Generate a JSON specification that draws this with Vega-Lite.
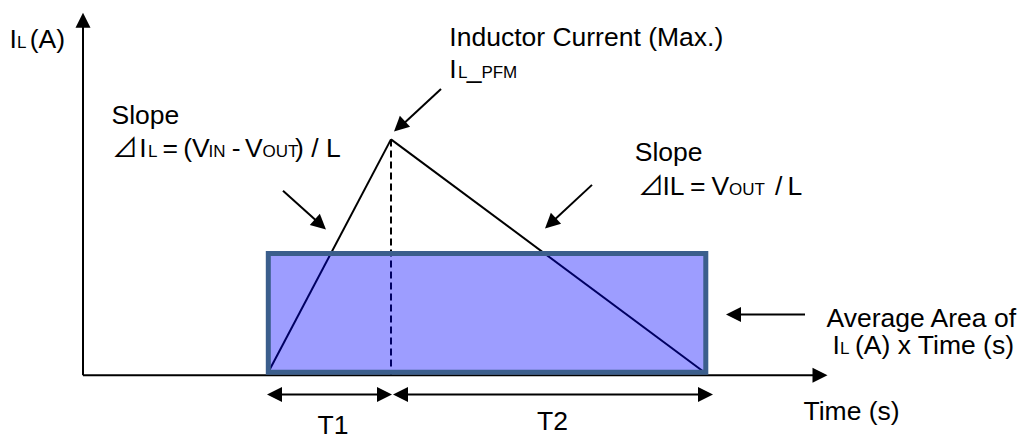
{
  "$schema": "https://vega.github.io/schema/vega-lite/v6.json",
  "width": 1023,
  "height": 440,
  "autosize": {"type": "fit", "contains": "padding"},
  "padding": 0,
  "background": "white",
  "config": {"view": {"stroke": null}},
  "datasets": {
    "lines": [
      {"part": "y axis", "x": 0, "y": 0, "x2": 0, "y2": 355, "style": "solid"},
      {"part": "x axis", "x": 0, "y": 0, "x2": 738, "y2": 0, "style": "solid"},
      {"part": "rise", "x": 185, "y": 2.5, "x2": 308, "y2": 238.5, "style": "solid"},
      {"part": "fall", "x": 308, "y": 238.5, "x2": 622, "y2": 2.5, "style": "solid"},
      {"part": "peak marker", "x": 308, "y": 238.5, "x2": 308, "y2": 0, "style": "dashed"},
      {"part": "peak pointer", "x": 358, "y": 289.5, "x2": 317, "y2": 251, "style": "solid"},
      {"part": "rise pointer", "x": 200, "y": 186.5, "x2": 237, "y2": 153, "style": "solid"},
      {"part": "fall pointer", "x": 509, "y": 192.5, "x2": 468, "y2": 154, "style": "solid"},
      {"part": "area pointer", "x": 722, "y": 61.5, "x2": 651, "y2": 61.5, "style": "solid"},
      {"part": "T1 span", "x": 191, "y": -19.5, "x2": 302, "y2": -19.5, "style": "solid"},
      {"part": "T2 span", "x": 317, "y": -19.5, "x2": 622, "y2": -19.5, "style": "solid"}
    ],
    "box": [
      {"t_start": 185.3, "t_end": 622.8, "i_low": 3, "i_avg": 123}
    ],
    "heads": [
      {"x": 0, "y": 359, "points": "up"},
      {"x": 737, "y": 0, "points": "right"},
      {"x": 301.5, "y": -19.5, "points": "right"},
      {"x": 622.5, "y": -19.5, "points": "right"},
      {"x": 191.5, "y": -19.5, "points": "left"},
      {"x": 317.5, "y": -19.5, "points": "left"},
      {"x": 650.5, "y": 61.5, "points": "left"},
      {"x": 237.4, "y": 152.5, "points": "down-right"},
      {"x": 316.5, "y": 251.6, "points": "down-left"},
      {"x": 467.5, "y": 153.6, "points": "down-left"}
    ],
    "labels": [
      {"x": -73.5, "y": 331.2, "text": "I", "role": "main"},
      {"x": -66, "y": 331.2, "text": "L", "role": "sub"},
      {"x": -53.2, "y": 331.2, "text": "(A)", "role": "main"},
      {"x": 366.3, "y": 332.8, "text": "Inductor Current (Max.)", "role": "main"},
      {"x": 366.3, "y": 300.2, "text": "I", "role": "main"},
      {"x": 375, "y": 300.2, "text": "L", "role": "sub"},
      {"x": 383.7, "y": 300.2, "text": "_", "role": "main"},
      {"x": 398.4, "y": 300.2, "text": "PFM", "role": "sub"},
      {"x": 28.5, "y": 254, "text": "Slope", "role": "main"},
      {"x": 29, "y": 221.2, "text": "⊿", "role": "symbol"},
      {"x": 56.3, "y": 221.2, "text": "I", "role": "main"},
      {"x": 65, "y": 221.2, "text": "L", "role": "sub"},
      {"x": 79.5, "y": 221.2, "text": "=", "role": "main"},
      {"x": 100.3, "y": 221.2, "text": "(V", "role": "main"},
      {"x": 125.5, "y": 221.2, "text": "IN", "role": "sub"},
      {"x": 148.8, "y": 221.2, "text": "-", "role": "main"},
      {"x": 162, "y": 221.2, "text": "V", "role": "main"},
      {"x": 179.5, "y": 221.2, "text": "OUT", "role": "sub"},
      {"x": 212, "y": 221.2, "text": ") / L", "role": "main"},
      {"x": 551.8, "y": 216.2, "text": "Slope", "role": "main"},
      {"x": 555, "y": 182.5, "text": "⊿", "role": "symbol"},
      {"x": 579.5, "y": 182.5, "text": "IL", "role": "main"},
      {"x": 607, "y": 182.5, "text": "=", "role": "main"},
      {"x": 628.5, "y": 182.5, "text": "V", "role": "main"},
      {"x": 646, "y": 182.5, "text": "OUT", "role": "sub"},
      {"x": 692, "y": 182.5, "text": "/", "role": "main"},
      {"x": 704.5, "y": 182.5, "text": "L", "role": "main"},
      {"x": 743.5, "y": 49, "text": "Average Area of", "role": "main"},
      {"x": 749.6, "y": 21.2, "text": "I", "role": "main"},
      {"x": 757, "y": 21.2, "text": "L", "role": "sub"},
      {"x": 772, "y": 21.2, "text": "(A) x Time (s)", "role": "main"},
      {"x": 720.5, "y": -45.5, "text": "Time (s)", "role": "main"},
      {"x": 234.5, "y": -59.1, "text": "T1", "role": "main"},
      {"x": 454, "y": -55.8, "text": "T2", "role": "main"}
    ]
  },
  "encoding": {
    "x": {"type": "quantitative", "scale": {"domain": [-83, 940], "nice": false, "zero": false}, "axis": null},
    "y": {"type": "quantitative", "scale": {"domain": [-60.5, 379.5], "nice": false, "zero": false}, "axis": null}
  },
  "layer": [
    {
      "data": {"name": "lines"},
      "transform": [{"filter": "datum.style === 'solid'"}],
      "mark": {"type": "rule", "color": "black", "strokeWidth": 2},
      "encoding": {
        "x": {"field": "x", "type": "quantitative"},
        "y": {"field": "y", "type": "quantitative"},
        "x2": {"field": "x2"},
        "y2": {"field": "y2"}
      }
    },
    {
      "data": {"name": "lines"},
      "transform": [{"filter": "datum.style === 'dashed'"}],
      "mark": {"type": "rule", "color": "black", "strokeWidth": 2, "strokeDash": [7, 4]},
      "encoding": {
        "x": {"field": "x", "type": "quantitative"},
        "y": {"field": "y", "type": "quantitative"},
        "x2": {"field": "x2"},
        "y2": {"field": "y2"}
      }
    },
    {
      "data": {"name": "box"},
      "mark": {"type": "rect", "fill": "#0000ff", "fillOpacity": 0.385, "stroke": "#3b5e8c", "strokeWidth": 5, "strokeJoin": "miter"},
      "encoding": {
        "x": {"field": "t_start", "type": "quantitative"},
        "x2": {"field": "t_end"},
        "y": {"field": "i_low", "type": "quantitative"},
        "y2": {"field": "i_avg"}
      }
    },
    {
      "data": {"name": "heads"},
      "transform": [{"filter": "datum.points === 'up'"}],
      "mark": {"type": "point", "shape": "M0,-1L-1,1L1,1Z", "filled": true, "fill": "black", "size": 225, "opacity": 1, "strokeWidth": 0, "angle": 0},
      "encoding": {"x": {"field": "x", "type": "quantitative"}, "y": {"field": "y", "type": "quantitative"}}
    },
    {
      "data": {"name": "heads"},
      "transform": [{"filter": "datum.points === 'right'"}],
      "mark": {"type": "point", "shape": "M0,-1L-1,1L1,1Z", "filled": true, "fill": "black", "size": 225, "opacity": 1, "strokeWidth": 0, "angle": 90},
      "encoding": {"x": {"field": "x", "type": "quantitative"}, "y": {"field": "y", "type": "quantitative"}}
    },
    {
      "data": {"name": "heads"},
      "transform": [{"filter": "datum.points === 'left'"}],
      "mark": {"type": "point", "shape": "M0,-1L-1,1L1,1Z", "filled": true, "fill": "black", "size": 225, "opacity": 1, "strokeWidth": 0, "angle": 270},
      "encoding": {"x": {"field": "x", "type": "quantitative"}, "y": {"field": "y", "type": "quantitative"}}
    },
    {
      "data": {"name": "heads"},
      "transform": [{"filter": "datum.points === 'down-right'"}],
      "mark": {"type": "point", "shape": "M0,-1L-1,1L1,1Z", "filled": true, "fill": "black", "size": 225, "opacity": 1, "strokeWidth": 0, "angle": 132},
      "encoding": {"x": {"field": "x", "type": "quantitative"}, "y": {"field": "y", "type": "quantitative"}}
    },
    {
      "data": {"name": "heads"},
      "transform": [{"filter": "datum.points === 'down-left'"}],
      "mark": {"type": "point", "shape": "M0,-1L-1,1L1,1Z", "filled": true, "fill": "black", "size": 225, "opacity": 1, "strokeWidth": 0, "angle": 227},
      "encoding": {"x": {"field": "x", "type": "quantitative"}, "y": {"field": "y", "type": "quantitative"}}
    },
    {
      "data": {"name": "labels"},
      "transform": [{"filter": "datum.role === 'main'"}],
      "mark": {"type": "text", "font": "Liberation Sans", "fontSize": 26.5, "color": "black", "align": "left", "baseline": "alphabetic"},
      "encoding": {
        "x": {"field": "x", "type": "quantitative"},
        "y": {"field": "y", "type": "quantitative"},
        "text": {"field": "text"}
      }
    },
    {
      "data": {"name": "labels"},
      "transform": [{"filter": "datum.role === 'sub'"}],
      "mark": {"type": "text", "font": "Liberation Sans", "fontSize": 17, "color": "black", "align": "left", "baseline": "alphabetic"},
      "encoding": {
        "x": {"field": "x", "type": "quantitative"},
        "y": {"field": "y", "type": "quantitative"},
        "text": {"field": "text"}
      }
    },
    {
      "data": {"name": "labels"},
      "transform": [{"filter": "datum.role === 'symbol'"}],
      "mark": {"type": "text", "font": "Noto Sans CJK JP", "fontSize": 26, "color": "black", "align": "left", "baseline": "alphabetic"},
      "encoding": {
        "x": {"field": "x", "type": "quantitative"},
        "y": {"field": "y", "type": "quantitative"},
        "text": {"field": "text"}
      }
    }
  ]
}
